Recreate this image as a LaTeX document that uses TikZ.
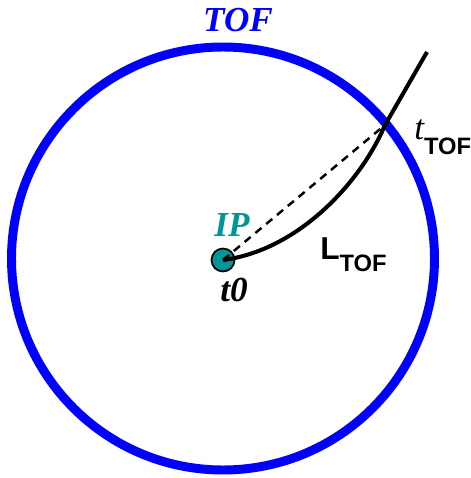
\documentclass[tikz,border=0pt]{standalone}
\usepackage{fontspec}
\setmainfont{Liberation Serif}
\setsansfont{Liberation Sans}
\usetikzlibrary{
  arrows.meta,
  positioning,
  calc
}
\definecolor{detector}{RGB}{0,0,255}
\definecolor{vertex}{RGB}{0,150,150}

\newcommand{\tofsub}{\fontsize{13.5}{13.5}\selectfont\sffamily\bfseries\upshape TOF}

\begin{document}
\begin{tikzpicture}[
  every node/.style={inner sep=0pt},
  barrel/.style={draw=detector, line width=5.1pt},
  track/.style={draw=black, line width=2.3pt},
  chord/.style={draw=black, line width=1.4pt, dash pattern=on 4.5pt off 3.5pt},
  slabel/.style={font=\fontsize{20}{20}\selectfont\bfseries\itshape},
  plabel/.style={font=\fontsize{18}{18}\selectfont\sffamily\bfseries},
]
\useasboundingbox (-4.46,-4.36) rectangle (4.96,5.2);

% TOF barrel
\draw[barrel] (0,0.03) circle (4.23);
\node[slabel, text=detector] (tof) at (0.30,4.80) {TOF};

% flight path from the vertex to the hit
\coordinate (hit) at (3.24,2.70);
\coordinate (away) at (4.08,4.16);
\node[circle, fill=vertex, draw=black, line width=1pt, minimum size=0.46cm] (ip) at (0,0) {};
\draw[chord] (ip.center) -- (hit);
\draw[track] (ip.center) .. controls (1.54,0.2) and (2.78,1.60) .. (hit) -- (away);

% labels
\node[slabel, text=vertex] (iplbl) at (0.18,0.70) {IP};
\node[slabel] (t0) at (0.22,-0.60) {t0};
\node[plabel, anchor=base west] (ltof) at (1.94,0) {L\raisebox{-6.8pt}{\tofsub}};
\node[anchor=base west, font=\fontsize{20}{20}\selectfont\itshape] (ttof) at (3.82,2.40) {t\raisebox{-8.5pt}{\tofsub}};

\end{tikzpicture}
\end{document}
